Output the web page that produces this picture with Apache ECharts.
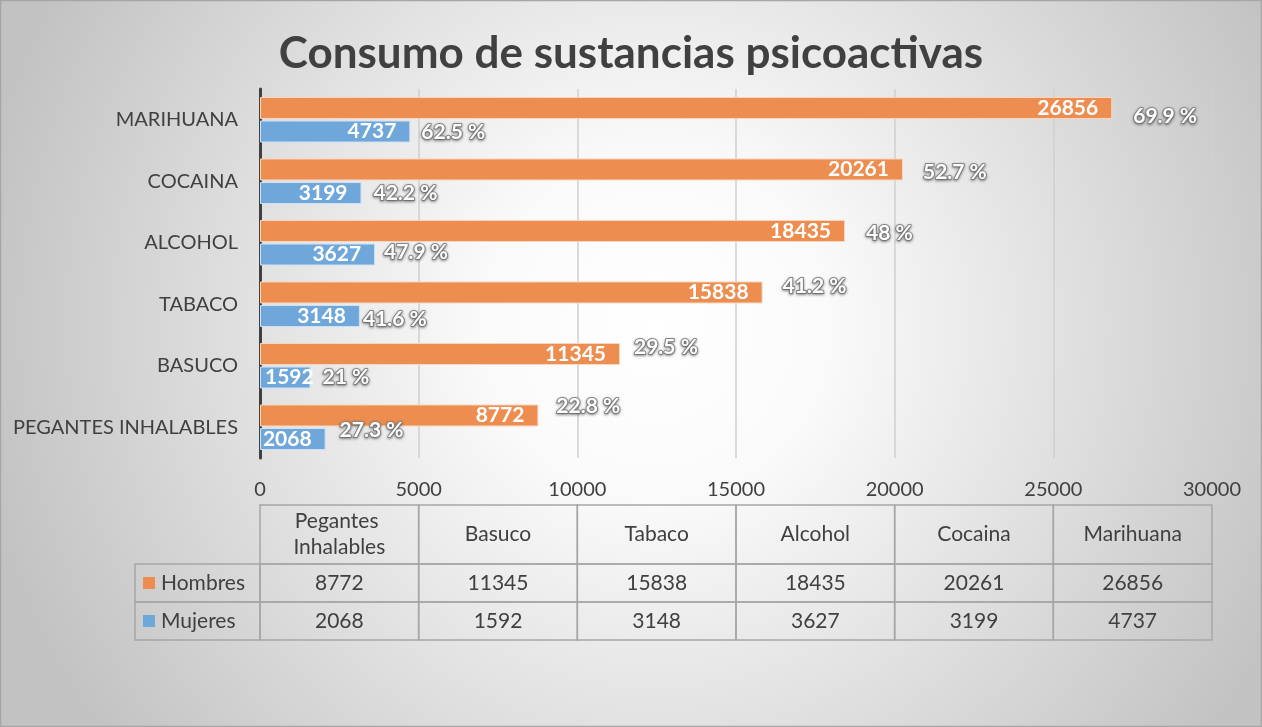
<!DOCTYPE html>
<html>
<head>
<meta charset="utf-8">
<script src="https://cdn.jsdelivr.net/npm/echarts@6/dist/echarts.min.js"></script>
<style>
  html, body { margin: 0; padding: 0; }
  #chart { width: 1262px; height: 727px; }
</style>
</head>
<body>
<div id="chart"></div>
<script>
// datos (de abajo hacia arriba, igual que la tabla)
var categorias = ['PEGANTES INHALABLES', 'BASUCO', 'TABACO', 'ALCOHOL', 'COCAINA', 'MARIHUANA'];
var encabezados = ['Pegantes Inhalables', 'Basuco', 'Tabaco', 'Alcohol', 'Cocaina', 'Marihuana'];
var hombres = [8772, 11345, 15838, 18435, 20261, 26856];
var mujeres = [2068, 1592, 3148, 3627, 3199, 4737];
var hombresPct = [22.8, 29.5, 41.2, 48, 52.7, 69.9];
var mujeresPct = [27.3, 21, 41.6, 47.9, 42.2, 62.5];

// desplazamientos de las etiquetas de porcentaje (como quedaron en el original)
var nudgeH = [[18, -9], [14, -7], [20, -6], [21, 2], [20, 3], [21, 8]];
var nudgeM = [[14, -9], [12, 0], [3, 3], [9, -2], [12, 0], [11, 1]];

var naranja = '#ED8D4F';
var azul = '#6FA7DA';
var texto = '#404040';
var fuente = 'Lato';

var myChart = echarts.init(document.getElementById('chart'));

function pctData(vals, pcts, nudges) {
    return vals.map(function (v, i) {
        return {
            value: v,
            pct: pcts[i],
            label: { offset: nudges[i] }
        };
    });
}

var labelPct = {
    show: true,
    position: 'right',
    distance: 0,
    formatter: function (p) { return p.data.pct + ' %'; },
    color: '#ffffff',
    fontFamily: fuente,
    fontWeight: 'bold',
    fontSize: 21,
    textBorderColor: '#8c8c8c',
    textBorderWidth: 2,
    textShadowColor: 'rgba(0,0,0,0.35)',
    textShadowBlur: 3,
    textShadowOffsetY: 1
};

var labelValor = {
    show: true, position: 'insideRight', distance: 14,
    color: '#fff', fontFamily: fuente, fontWeight: 'bold', fontSize: 21
};

// si la etiqueta no cabe en la barra, se arranca junto al eje (como en Excel)
function ajusteValor(p) {
    if (p.labelRect.x < p.rect.x + 2) {
        return {
            x: p.rect.x + 5,
            y: p.rect.y + p.rect.height / 2,
            align: 'left',
            verticalAlign: 'middle'
        };
    }
    return {};
}

// tabla de datos debajo del eje
var tLeft = 260, tRight = 1212, legLeft = 135;
var colW = (tRight - tLeft) / encabezados.length;
var headTop = 505, headH = 59, rowH = 38;
var borde = '#a6a6a6';
var graficos = [];

function celda(x, y, w, h) {
    graficos.push({
        type: 'rect',
        shape: { x: x, y: y, width: w, height: h },
        style: { fill: 'none', stroke: borde, lineWidth: 1.5 },
        silent: true
    });
}
function txt(x, y, s, align, w) {
    graficos.push({
        type: 'text',
        x: x, y: y,
        style: {
            text: s, fill: texto, font: '21px ' + fuente,
            align: align || 'center', verticalAlign: 'middle',
            width: w, overflow: w ? 'break' : 'none', lineHeight: 26
        },
        silent: true
    });
}

encabezados.forEach(function (h, i) {
    var x = tLeft + i * colW;
    celda(x, headTop, colW, headH);
    txt(x + colW / 2, headTop + headH / 2, h, 'center', colW - 30);
});
var filas = [
    { nombre: 'Hombres', color: naranja, vals: hombres },
    { nombre: 'Mujeres', color: azul, vals: mujeres }
];
filas.forEach(function (f, r) {
    var y = headTop + headH + r * rowH;
    celda(legLeft, y, tLeft - legLeft, rowH);
    graficos.push({
        type: 'rect',
        shape: { x: legLeft + 8, y: y + rowH / 2 - 6, width: 12, height: 12 },
        style: { fill: f.color },
        silent: true
    });
    txt(legLeft + 26, y + rowH / 2, f.nombre, 'left');
    f.vals.forEach(function (v, i) {
        var x = tLeft + i * colW;
        celda(x, y, colW, rowH);
        txt(x + colW / 2, y + rowH / 2, String(v));
    });
});
graficos.push({
    type: 'rect',
    shape: { x: 0.5, y: 0.5, width: 1261, height: 726 },
    style: { fill: 'none', stroke: '#a6a6a6', lineWidth: 1.5 },
    silent: true
});

myChart.setOption({
    backgroundColor: {
        type: 'radial', x: 0.52, y: 0.45, r: 0.95,
        colorStops: [
            { offset: 0, color: '#ffffff' },
            { offset: 0.25, color: '#fafafa' },
            { offset: 1, color: '#c2c2c2' }
        ]
    },
    animation: false,
    title: {
        text: 'Consumo de sustancias psicoactivas',
        left: 'center',
        top: 27,
        textStyle: { fontFamily: fuente, fontSize: 44, fontWeight: 'bold', color: texto }
    },
    grid: { left: 260, right: 50, top: 89, bottom: 269, containLabel: false },
    xAxis: {
        type: 'value',
        min: 0, max: 30000, interval: 5000,
        axisLine: { show: false },
        axisTick: { show: false },
        axisLabel: {
            color: texto, fontFamily: fuente, fontSize: 20, margin: 22,
            formatter: function (v) { return String(v); }
        },
        splitLine: { lineStyle: { color: '#cfcfcf', width: 1.5 } }
    },
    yAxis: [{
        type: 'category',
        data: categorias,
        axisLine: { lineStyle: { color: '#404040', width: 3 } },
        axisTick: { show: false },
        axisLabel: { color: texto, fontFamily: fuente, fontSize: 20, margin: 22 }
    }, {
        type: 'category',
        data: categorias,
        show: false
    }],
    graphic: graficos,
    series: [
        {
            name: 'Hombres', type: 'bar', yAxisIndex: 0,
            data: hombres, barWidth: 22, barGap: '7%',
            itemStyle: { color: naranja, borderColor: '#f7d6c0', borderWidth: 1 },
            label: labelValor, labelLayout: ajusteValor, z: 2
        },
        {
            name: 'Mujeres', type: 'bar', yAxisIndex: 0,
            data: mujeres, barWidth: 22, barGap: '7%',
            itemStyle: { color: azul, borderColor: '#cfe2f3', borderWidth: 1 },
            label: labelValor, labelLayout: ajusteValor, z: 2
        },
        {
            name: 'HombresPct', type: 'bar', yAxisIndex: 1,
            data: pctData(hombres, hombresPct, nudgeH), barWidth: 22, barGap: '7%',
            itemStyle: { color: 'rgba(0,0,0,0)' },
            label: labelPct, silent: true, z: 3
        },
        {
            name: 'MujeresPct', type: 'bar', yAxisIndex: 1,
            data: pctData(mujeres, mujeresPct, nudgeM), barWidth: 22, barGap: '7%',
            itemStyle: { color: 'rgba(0,0,0,0)' },
            label: labelPct, silent: true, z: 3
        }
    ]
});
</script>
</body>
</html>
